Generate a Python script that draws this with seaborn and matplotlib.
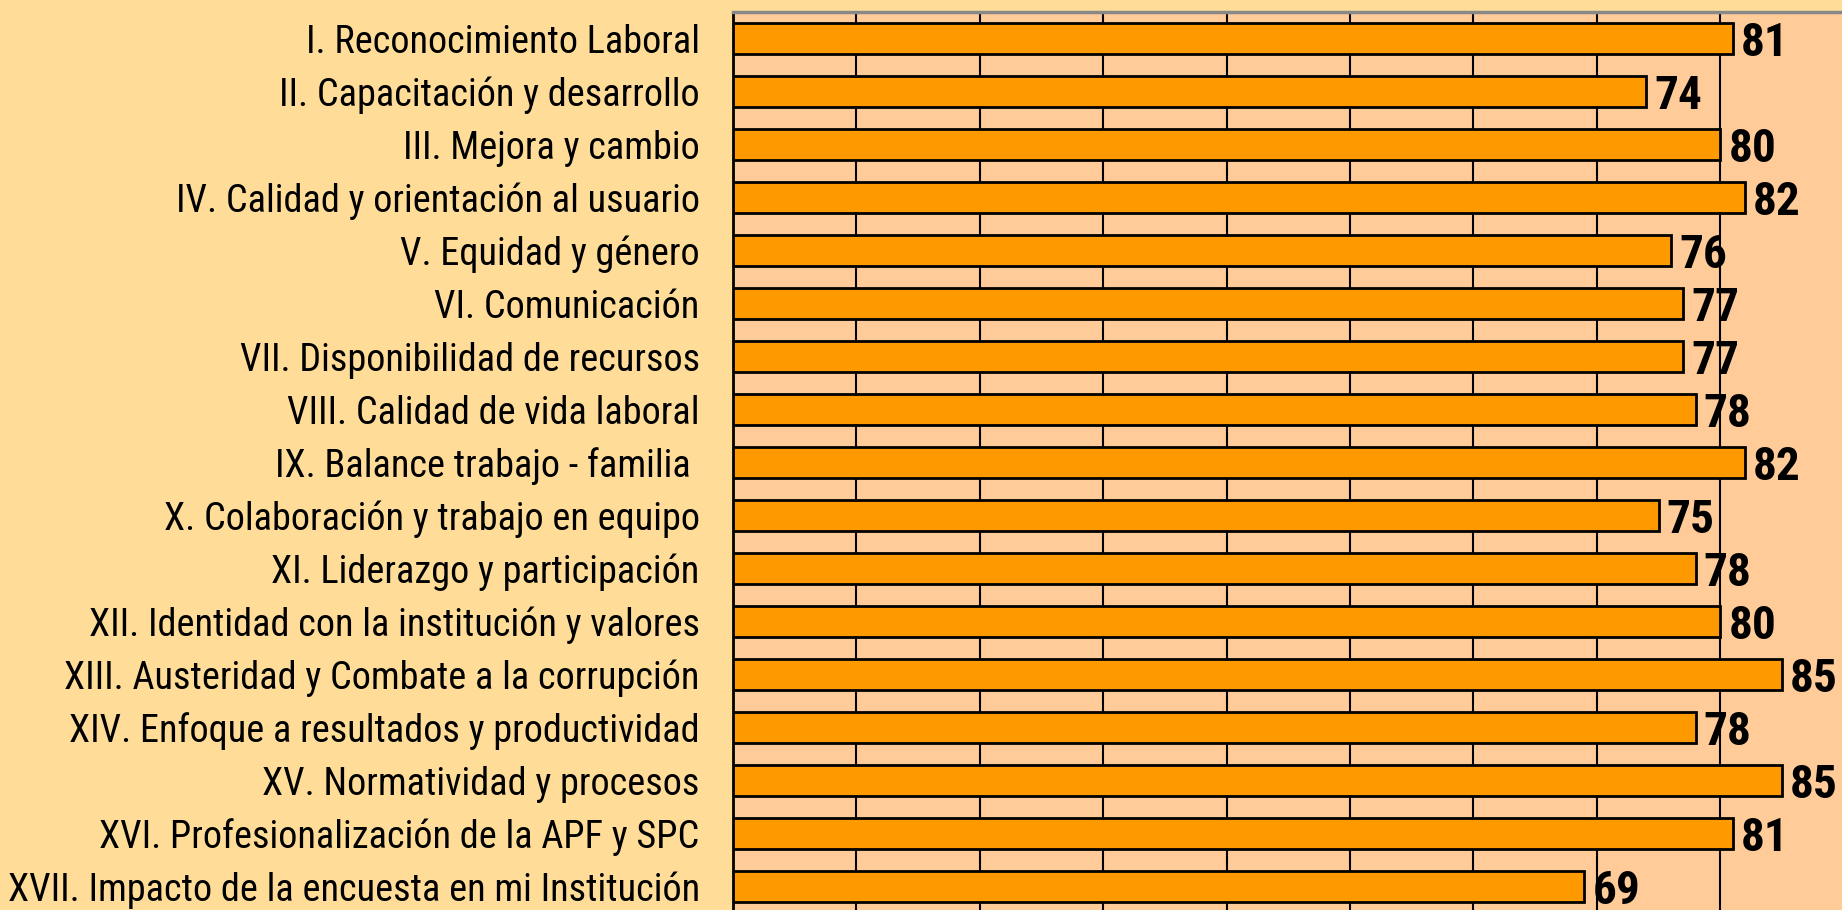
import matplotlib
matplotlib.use("Agg")
import matplotlib.pyplot as plt
import seaborn as sns
import pandas as pd

# Data
categories = [
    "I. Reconocimiento Laboral",
    "II. Capacitación y desarrollo",
    "III. Mejora y cambio",
    "IV. Calidad y orientación al usuario",
    "V. Equidad y género",
    "VI. Comunicación",
    "VII. Disponibilidad de recursos",
    "VIII. Calidad de vida laboral",
    "IX. Balance trabajo - familia ",
    "X. Colaboración y trabajo en equipo",
    "XI. Liderazgo y participación",
    "XII. Identidad con la institución y valores",
    "XIII. Austeridad y Combate a la corrupción",
    "XIV. Enfoque a resultados y productividad",
    "XV. Normatividad y procesos",
    "XVI. Profesionalización de la APF y SPC",
    "XVII. Impacto de la encuesta en mi Institución",
]
scores = [81, 74, 80, 82, 76, 77, 77, 78, 82, 75, 78, 80, 85, 78, 85, 81, 69]

df = pd.DataFrame({"factor": categories, "score": scores})

sns.set_style("white")
# narrow fonts first (Arial Narrow look), plain sans as a fallback
plt.rcParams['font.family'] = ['Roboto Condensed', 'Archivo Narrow', 'Liberation Sans', 'DejaVu Sans']
plt.rcParams['text.color'] = 'black'
plt.rcParams['ytick.color'] = 'black'

fig = plt.figure(figsize=(18.42, 9.10), dpi=100)
fig.patch.set_facecolor('#FFDD99')
ax = fig.add_axes([733 / 1842, -3 / 910, 1234 / 1842, 901 / 910])
ax.set_facecolor('#FFCC99')

sns.barplot(data=df, x="score", y="factor", orient="h", color='#FF9900',
            edgecolor='black', linewidth=2, width=0.58, saturation=1, ax=ax, zorder=3)

ax.set_xlim(0, 100)
ax.set_ylim(len(categories) - 0.5, -0.5)
ax.set_xticks(range(0, 101, 10))
ax.tick_params(axis='x', length=0, labelbottom=False)
ax.grid(axis='x', color='black', linewidth=1.5, zorder=1)
ax.set_axisbelow(True)

ax.set_yticks(range(len(categories)))
ax.set_yticklabels(categories, fontsize=27.5, color='black')
ax.tick_params(axis='y', which='major', length=0, pad=24)
ax.set_yticks([i - 0.5 for i in range(len(categories) + 1)], minor=True)
ax.tick_params(axis='y', which='minor', length=6, width=2, color='black', direction='out')
ax.set_xlabel("")
ax.set_ylabel("")

for side in ['right', 'bottom']:
    ax.spines[side].set_visible(False)
ax.spines['left'].set_color('black')
ax.spines['left'].set_linewidth(2)
ax.spines['top'].set_color('#888888')
ax.spines['top'].set_linewidth(2.5)

for i, v in enumerate(scores):
    ax.annotate(str(v), xy=(v, i), xytext=(6, 0), textcoords='offset points',
                ha='left', va='center_baseline', fontsize=34, fontweight='bold',
                color='black', zorder=4)

fig.savefig("out.png", dpi=100, facecolor=fig.get_facecolor())
